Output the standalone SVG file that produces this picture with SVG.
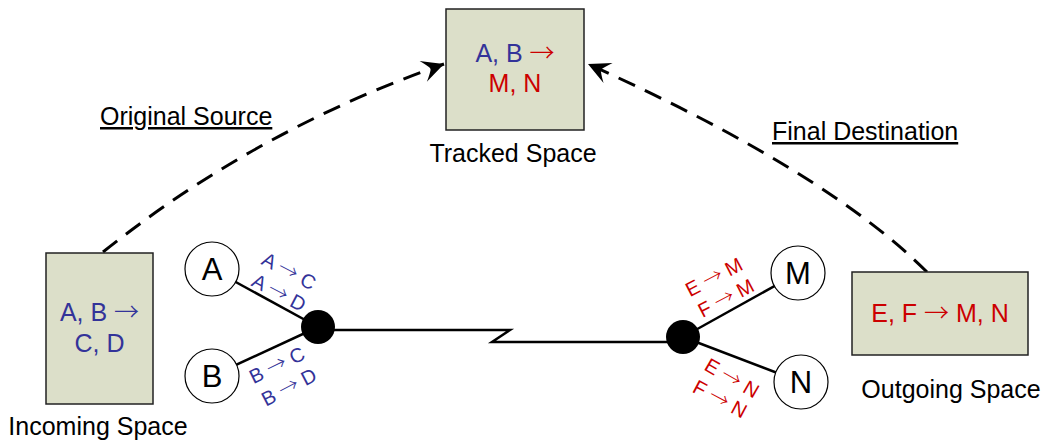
<svg xmlns="http://www.w3.org/2000/svg" width="1047" height="445" viewBox="0 0 1047 445">
<style>
text{font-family:"Liberation Sans",Arial,sans-serif}
.ar{font-family:"Noto Sans CJK JP","Liberation Sans",sans-serif;font-weight:300}
.box{fill:#dcdfc9;stroke:#222;stroke-width:1.5}
.node{fill:#fff;stroke:#000;stroke-width:1.2}
.dot{fill:#000}
.ln{stroke:#000;stroke-width:2.5;fill:none}
.dash{stroke:#000;stroke-width:3;fill:none;stroke-dasharray:18 11}
.big{font-size:25px}
.lbl{font-size:25px;fill:#000;text-anchor:middle}
.nl{font-size:31px;fill:#000;text-anchor:middle}
.sm{font-size:20px;text-anchor:middle}
.b{fill:#333399}
.r{fill:#cc0000}
</style>
<defs>
<marker id="stealth" markerUnits="userSpaceOnUse" orient="auto" refX="0" refY="0" markerWidth="30" markerHeight="30" overflow="visible">
<path d="M0,0 Q-12,-6 -22,-11 Q-16,-4 -14,0 Q-16,4 -22,11 Q-12,6 0,0 Z" fill="#000"/>
</marker>
</defs>
<g id="connectors">
<path class="ln" d="M212,269 L318,327"/>
<path class="ln" d="M212,376 L318,327"/>
<path class="ln" d="M318,330 L510,330 L492,342 L683,342"/>
<path class="ln" d="M683,337 L798,273"/>
<path class="ln" d="M683,337 L801,382"/>
<path class="dash" d="M103,252 Q256,130 444,64" marker-end="url(#stealth)"/>
<path class="dash" d="M927,272 Q826,171 588,64" marker-end="url(#stealth)"/>
<text x="100" y="125" class="big" fill="#000" text-decoration="underline">Original Source</text>
<text x="772" y="140" class="big" fill="#000" text-decoration="underline">Final Destination</text>
<g transform="translate(289,271) rotate(27.5)"><text x="0" y="7" class="sm b">A <tspan class="ar">→</tspan> C</text></g>
<g transform="translate(279,292.5) rotate(27.5)"><text x="0" y="7" class="sm b">A <tspan class="ar">→</tspan> D</text></g>
<g transform="translate(277,365) rotate(-26)"><text x="0" y="7" class="sm b">B <tspan class="ar">→</tspan> C</text></g>
<g transform="translate(289,387) rotate(-27.5)"><text x="0" y="7" class="sm b">B <tspan class="ar">→</tspan> D</text></g>
<g transform="translate(714,277) rotate(-27.5)"><text x="0" y="7" class="sm r">E <tspan class="ar">→</tspan> M</text></g>
<g transform="translate(726,298) rotate(-27.5)"><text x="0" y="7" class="sm r">F <tspan class="ar">→</tspan> M</text></g>
<g transform="translate(732,378) rotate(30)"><text x="0" y="7" class="sm r">E <tspan class="ar">→</tspan> N</text></g>
<g transform="translate(720,399) rotate(28)"><text x="0" y="7" class="sm r">F <tspan class="ar">→</tspan> N</text></g>
</g>
<g id="tracked">
<rect class="box" x="446" y="9" width="138" height="121"/>
<text x="515" y="62" class="big" text-anchor="middle"><tspan class="b">A, B </tspan><tspan class="r ar">→</tspan></text>
<text x="515" y="92" class="big r" text-anchor="middle">M, N</text>
<text x="513" y="162" class="lbl">Tracked Space</text>
</g>
<g id="incoming">
<rect class="box" x="46" y="253" width="107" height="151"/>
<text x="99.5" y="321" class="big b" text-anchor="middle">A, B <tspan class="ar">→</tspan></text>
<text x="99.5" y="352" class="big b" text-anchor="middle">C, D</text>
<text x="98" y="435" class="lbl">Incoming Space</text>
</g>
<g id="outgoing">
<rect class="box" x="852" y="272" width="176" height="83"/>
<text x="940" y="322" class="big r" text-anchor="middle">E, F <tspan class="ar">→</tspan> M, N</text>
<text x="951" y="398" class="lbl">Outgoing Space</text>
</g>
<g id="nodeA"><circle class="node" cx="212" cy="269" r="27"/><text x="212" y="280" class="nl">A</text></g>
<g id="nodeB"><circle class="node" cx="212" cy="376" r="27"/><text x="212" y="387" class="nl">B</text></g>
<g id="nodeM"><circle class="node" cx="798" cy="273" r="27"/><text x="798" y="284" class="nl">M</text></g>
<g id="nodeN"><circle class="node" cx="801" cy="382" r="27"/><text x="801" y="393" class="nl">N</text></g>
<g id="hubL"><circle class="dot" cx="318" cy="327" r="17"/></g>
<g id="hubR"><circle class="dot" cx="683" cy="337" r="17"/></g>
</svg>
